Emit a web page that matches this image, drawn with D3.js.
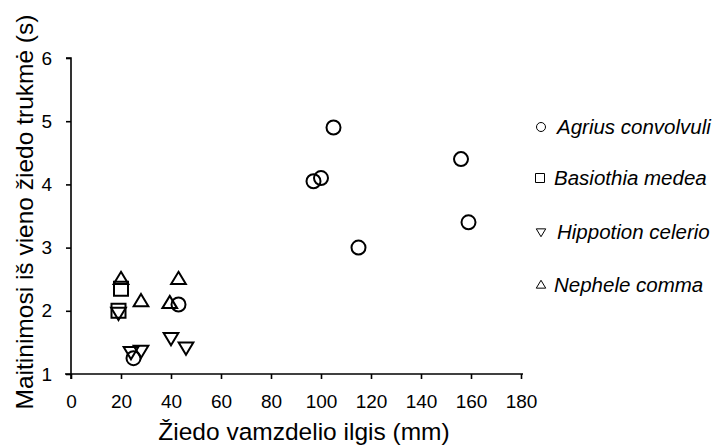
<html lang="lt">
<head>
  <meta charset="UTF-8">
  <title>Maitinimosi trukmė</title>
  <style>
    body { margin: 0; background: #fff; }
    #viz { width: 714px; height: 448px; }
    text { font-family: "Liberation Sans", Arial, sans-serif; fill: #000; }
  </style>
</head>
<body>
  <div id="viz"></div>
  <script src="https://d3js.org/d3.v7.min.js"></script>
  <script>
    // species names (legend order)
    const species = ["Agrius convolvuli", "Basiothia medea", "Hippotion celerio", "Nephele comma"]
    const symbols = ["circle", "square", "down", "up"]

    // tube length (mm) / feeding time per flower (s)
    const agriusX = [105, 156, 100, 97, 159, 115, 43, 25]
    const agriusY = [4.9, 4.4, 4.1, 4.05, 3.4, 3.0, 2.1, 1.25]
    const basiothiaX = [20, 19]
    const basiothiaY = [2.35, 2.0]
    const hippotionX = [19, 24, 28, 40, 46]
    const hippotionY = [1.97, 1.35, 1.37, 1.57, 1.42]
    const nepheleX = [20, 28, 43, 39.5]
    const nepheleY = [2.5, 2.15, 2.5, 2.12]

    const xTicks = [0, 20, 40, 60, 80, 100, 120, 140, 160, 180]
    const yTicks = [1, 2, 3, 4, 5, 6]

    const seriesX = [agriusX, basiothiaX, hippotionX, nepheleX]
    const seriesY = [agriusY, basiothiaY, hippotionY, nepheleY]

    let points = []
    seriesX.forEach(function(xs, s) {
      xs.forEach(function(x, i) {
        points.push({ sp: s, x: x, y: seriesY[s][i] })
      })
    })

    const margin = { top: 58, left: 71, right: 193, bottom: 74 }
    const height = 448 - margin.top - margin.bottom

    const svg = d3.select("#viz").append("svg")
      .attr("width", 714).attr("height", 448)
    const g = svg.append("g")
      .attr("transform", "translate(" + margin.left + "," + margin.top + ")")

    const x = d3.scaleLinear().domain([0, 180]).range([0, 450])
    const y = d3.scaleLinear().domain([1, 6]).range([height, 0])

    // symbol path builder, centred on 0,0
    function shape(type, r) {
      if (type === "circle") return d3.symbol(d3.symbolCircle, Math.PI * r * r)()
      if (type === "square") {
        return "M" + (-r) + "," + (-r) + "H" + r + "V" + r + "H" + (-r) + "Z"
      }
      const h = r * 1.75, w = r * 1.05
      if (type === "up") {
        return "M0," + (-h * 0.6) + "L" + w + "," + (h * 0.4) + "L" + (-w) + "," + (h * 0.4) + "Z"
      }
      return "M0," + (h * 0.6) + "L" + w + "," + (-h * 0.4) + "L" + (-w) + "," + (-h * 0.4) + "Z"
    }

    const xAxis = g.append("g")
      .attr("transform", "translate(0," + height + ")")
      .call(d3.axisBottom(x).tickValues(xTicks).tickSize(5).tickPadding(16))
    xAxis.select(".domain").attr("d", "M-6,0H452")

    const yAxis = g.append("g")
      .call(d3.axisLeft(y).tickValues(yTicks).tickFormat(d3.format("d")).tickSize(5).tickPadding(14))
    yAxis.select(".domain").attr("d", "M-5,0H0V" + (height + 5))

    g.selectAll(".domain, .tick line").attr("stroke", "#000").attr("stroke-width", 1.6)
    g.selectAll(".tick text").style("font-size", "19px")

    g.selectAll("path.pt")
      .data(points)
      .enter()
      .append("path")
      .attr("class", "pt")
      .attr("transform", function(d) { return "translate(" + x(d.x) + "," + y(d.y) + ")" })
      .attr("d", function(d) { return shape(symbols[d.sp], 7) })
      .attr("fill", "none")
      .attr("stroke", "#000")
      .attr("stroke-width", 2)

    // legend
    const legend = svg.append("g").attr("transform", "translate(541,0)")
    const legendY = [127, 178, 232, 285]
    species.forEach(function(name, i) {
      legend.append("path")
        .attr("transform", "translate(" + (i === 1 ? -1 : 0) + "," + legendY[i] + ")")
        .attr("d", shape(symbols[i], 4.5))
        .attr("fill", "none")
        .attr("stroke", "#000")
        .attr("stroke-width", 1)
      legend.append("text")
        .attr("x", i === 2 || i === 0 ? 16 : 13)
        .attr("y", legendY[i])
        .attr("dy", "0.35em")
        .style("font-size", "20.5px")
        .style("font-style", "italic")
        .text(name)
    })

    svg.append("text")
      .attr("x", 304)
      .attr("y", 440)
      .attr("text-anchor", "middle")
      .style("font-size", "24.5px")
      .text("Žiedo vamzdelio ilgis (mm)")

    svg.append("text")
      .attr("transform", "translate(33,212) rotate(-90)")
      .attr("text-anchor", "middle")
      .style("font-size", "24.5px")
      .text("Maitinimosi iš vieno žiedo trukmė (s)")
  </script>
</body>
</html>
